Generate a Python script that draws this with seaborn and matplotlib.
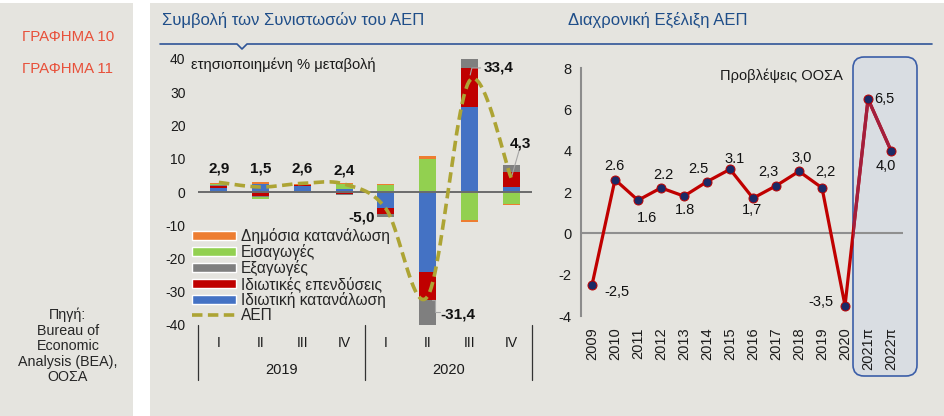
import numpy as np
import matplotlib
matplotlib.use('Agg')
import matplotlib.pyplot as plt
import seaborn as sns
from matplotlib.patches import Patch, Rectangle, FancyBboxPatch
from matplotlib.lines import Line2D
from matplotlib.transforms import IdentityTransform, blended_transform_factory

# ==========================================
# 1. DADOS
# ==========================================
# Γράφημα 10: συμβολή στην τριμηνιαία μεταβολή του ΑΕΠ (ΗΠΑ)
quarters = ['I', 'II', 'III', 'IV', 'I', 'II', 'III', 'IV']
quarter_years = ['2019', '2019', '2019', '2019', '2020', '2020', '2020', '2020']
idiotiki_katanalosi = [1.3, 2.3, 1.9, 0.8, -4.8, -24.0, 25.5, 1.5]
idiotikes_ependyseis = [0.6, -1.1, 0.3, -0.6, -1.7, -8.5, 11.8, 4.5]
exagoges = [0.2, -0.5, 0.0, -0.2, -1.0, -7.5, 2.9, 2.0]
eisagoges = [0.3, -0.5, 0.0, 1.7, 2.2, 10.0, -8.5, -3.7]
dimosia_katanalosi = [0.4, 0.8, 0.3, 0.3, 0.3, 0.7, -0.5, -0.2]
aep_trimino = [2.9, 1.5, 2.6, 2.4, -5.0, -31.4, 33.4, 4.3]
aep_trimino_labels = ['2,9', '1,5', '2,6', '2,4', '-5,0', '-31,4', '33,4', '4,3']

# Γράφημα 11: ετήσια μεταβολή ΑΕΠ
eti = ['2009', '2010', '2011', '2012', '2013', '2014', '2015', '2016',
       '2017', '2018', '2019', '2020', '2021π', '2022π']
aep_eti = [-2.5, 2.6, 1.6, 2.2, 1.8, 2.5, 3.1, 1.7, 2.3, 3.0, 2.2, -3.5, 6.5, 4.0]
aep_eti_labels = ['-2,5', '2.6', '1.6', '2.2', '1.8', '2.5', '3.1', '1,7',
                  '2,3', '3,0', '2,2', '-3,5', '6,5', '4,0']

# ==========================================
# 2. ESTILO
# ==========================================
W, H = 944, 416
BG = '#E5E4DF'
TITLE_C = '#1F4E89'
C_BLUE, C_RED, C_GRAY, C_GREEN, C_ORANGE = '#4472C4', '#C00000', '#7F7F7F', '#92D050', '#ED7D31'
C_AEP = '#ADA434'

sns.set_theme(style='white')
plt.rcParams['font.family'] = ['Liberation Sans', 'DejaVu Sans']
plt.rcParams['axes.unicode_minus'] = False


def fx(px):
    return px / W


def fy(py):
    return 1 - py / H


def smooth_curve(xs, ys, sx, sy, n=24):
    # linha suavizada tipo Excel (Bezier Catmull-Rom em unidades de tela)
    P = np.column_stack([np.asarray(xs, float) * sx, np.asarray(ys, float) * sy])
    Pe = np.vstack([P[0], P, P[-1]])
    t = np.linspace(0, 1, n)[:, None]
    partes = []
    for i in range(len(P) - 1):
        p0, p1, p2, p3 = Pe[i], Pe[i + 1], Pe[i + 2], Pe[i + 3]
        b1 = p1 + (p2 - p0) / 6
        b2 = p2 - (p3 - p1) / 6
        seg = (1 - t) ** 3 * p1 + 3 * (1 - t) ** 2 * t * b1 + 3 * (1 - t) * t ** 2 * b2 + t ** 3 * p2
        partes.append(seg if i == 0 else seg[1:])
    out = np.vstack(partes)
    return out[:, 0] / sx, out[:, 1] / sy


fig = plt.figure(figsize=(W / 100, H / 100), dpi=100)
fig.patch.set_facecolor('white')

# painéis cinzas
fig.add_artist(Rectangle((0, 0), fx(133), 413 / H, transform=fig.transFigure,
                         facecolor=BG, edgecolor='none', zorder=-5))
fig.add_artist(Rectangle((fx(150), 0), fx(W - 150), 413 / H, transform=fig.transFigure,
                         facecolor=BG, edgecolor='none', zorder=-5))

# barra lateral
fig.text(fx(68), fy(37), 'ΓΡΑΦΗΜΑ 10', color='#E8503A', fontsize=10.8, ha='center', va='center')
fig.text(fx(68), fy(69), 'ΓΡΑΦΗΜΑ 11', color='#E8503A', fontsize=10.8, ha='center', va='center')
fig.text(fx(68), fy(346), 'Πηγή:\nBureau of\nEconomic\nAnalysis (BEA),\nΟΟΣΑ',
         fontsize=10.3, ha='center', va='center', linespacing=1.13)

# títulos e linha azul
fig.text(fx(162), fy(20), 'Συμβολή των Συνιστωσών του ΑΕΠ', color=TITLE_C, fontsize=12, va='center')
fig.text(fx(568), fy(20), 'Διαχρονική Εξέλιξη ΑΕΠ', color=TITLE_C, fontsize=12, va='center')
fig.add_artist(Line2D([160, 237, 242, 247, 932], [H - 44, H - 44, H - 49, H - 44, H - 44],
                      transform=IdentityTransform(), color='#2F5597', lw=1.2))

# ==========================================
# 3. GRÁFICO 10 - barras empilhadas
# ==========================================
ax = fig.add_axes([fx(198), fy(325), fx(532 - 198), (325 - 59) / H])
ax.set_facecolor('none')
chaves = [f'{a} {q}' for a, q in zip(quarter_years, quarters)]
series = [(idiotiki_katanalosi, C_BLUE), (idiotikes_ependyseis, C_RED), (exagoges, C_GRAY),
          (eisagoges, C_GREEN), (dimosia_katanalosi, C_ORANGE)]
vals = np.array([s[0] for s in series])
cum_pos = np.cumsum(np.clip(vals, 0, None), axis=0)
cum_neg = np.cumsum(np.clip(vals, None, 0), axis=0)
for k in range(len(series) - 1, -1, -1):
    for cum in (cum_pos, cum_neg):
        sns.barplot(x=chaves, y=cum[k], order=chaves, color=series[k][1], saturation=1,
                    width=0.41, errorbar=None, linewidth=0, ax=ax)

ax.axhline(0, color='#6B6B6B', lw=1.4, zorder=3)
sx, sy = 41.75, 3.32
cx, cy = smooth_curve(range(len(aep_trimino)), aep_trimino, sx, sy)
ax.plot(cx, cy, color=C_AEP, lw=2.6, ls=(0, (2.9, 1.5)), dash_capstyle='butt', zorder=4)

ax.set_xlim(-0.5, 7.5)
ax.set_ylim(-40, 40)
ax.set_yticks(range(-40, 41, 10))
ax.tick_params(axis='y', length=0, pad=9, labelsize=10, labelcolor='#1a1a1a')
ax.tick_params(axis='x', length=0, labelbottom=False)
ax.set_xlabel('')
ax.set_ylabel('')
for s in ax.spines.values():
    s.set_visible(False)

# rótulos do ΑΕΠ
pos_rot = [(0, 7.0), (1, 7.0), (2, 7.0), (3, 6.6), (3.42, -7.8), (5.72, -36.8), (6.71, 37.3), (7.23, 14.6)]
for lab, (lx, ly) in zip(aep_trimino_labels, pos_rot):
    ax.text(lx, ly, lab, ha='center', va='center', fontsize=11, fontweight='bold', color='#111111')
ax.plot([6.02, 6.06, 6.27], [35.2, 37.3, 37.3], color='#A6A6A6', lw=0.8)
ax.plot([7.02, 7.19], [5.0, 12.4], color='#A6A6A6', lw=0.8)
ax.plot([5.1, 5.18, 5.18, 5.3], [-32.5, -32.5, -36.0, -36.0], color='#A6A6A6', lw=0.8)

fig.text(fx(191), fy(65), 'ετησιοποιημένη % μεταβολή', fontsize=10.6, va='center', color='#1a1a1a')

# eixo x em dois níveis
tr = blended_transform_factory(ax.transData, ax.transAxes)
for i, q in enumerate(quarters):
    ax.text(i, -0.068, q, transform=tr, ha='center', va='center', fontsize=10, color='#1a1a1a')
for xa, ano in [(1.5, '2019'), (5.5, '2020')]:
    ax.text(xa, -0.17, ano, transform=tr, ha='center', va='center', fontsize=10.5, color='#1a1a1a')
for xs in (-0.5, 3.5, 7.5):
    ax.plot([xs, xs], [0, -0.207], transform=tr, color='#333333', lw=0.9, clip_on=False)

# legenda
handles = [Patch(facecolor=C_ORANGE, label='Δημόσια κατανάλωση'),
           Patch(facecolor=C_GREEN, label='Εισαγωγές'),
           Patch(facecolor=C_GRAY, label='Εξαγωγές'),
           Patch(facecolor=C_RED, label='Ιδιωτικές επενδύσεις'),
           Patch(facecolor=C_BLUE, label='Ιδιωτική κατανάλωση'),
           Line2D([], [], color=C_AEP, lw=2.6, ls=(0, (2.9, 1.5)), label='ΑΕΠ')]
fig.legend(handles=handles, loc='upper left', bbox_to_anchor=(fx(192), fy(228)), frameon=False,
           fontsize=11.2, handlelength=2.85, handleheight=0.5, labelspacing=0.0, handletextpad=0.3,
           borderpad=0, borderaxespad=0)

# ==========================================
# 4. GRÁFICO 11 - evolução anual
# ==========================================
ax2 = fig.add_axes([fx(581), fy(316), fx(903 - 581), (316 - 68) / H])
ax2.set_facecolor('none')

caixa = FancyBboxPatch((853, H - 376), 64, 319, boxstyle='round,pad=0,rounding_size=11',
                       transform=IdentityTransform(), facecolor='#D9DDE2', edgecolor='#3B5EA8',
                       lw=1.2, zorder=-1)
fig.add_artist(caixa)

ax2.axhline(0, color='#8F8F8F', lw=1.5, zorder=1)
xi = np.arange(len(aep_eti))
sns.lineplot(x=xi, y=aep_eti, color='#C00000', lw=2.3, ax=ax2, zorder=3)
escuro, = ax2.plot(xi, aep_eti, color='#A31F3D', lw=2.3, zorder=3.5)
escuro.set_clip_path(caixa)
ax2.plot(xi, aep_eti, ls='none', marker='o', markersize=6.5, markerfacecolor='#1B2A66',
         markeredgecolor='#C00000', markeredgewidth=0.7, zorder=5)

offsets = [(25, -7), (-1, 14), (9, -18), (2, 13), (1, -14), (-9, 13), (5, 10),
           (-1, -12), (-8, 14), (3, 13), (3, 16), (-24, 4), (16, 0), (-5, -15)]
for x, v, lab, (ox, oy) in zip(xi, aep_eti, aep_eti_labels, offsets):
    ax2.annotate(lab, (x, v), xytext=(ox * 0.72, oy * 0.72), textcoords='offset points',
                 ha='center', va='center', fontsize=10.5, color='#111111', zorder=6)

ax2.text(0.432, 0.969, 'Προβλέψεις ΟΟΣΑ', transform=ax2.transAxes,
         ha='left', va='center', fontsize=10.5, color='#1a1a1a')

ax2.set_xlim(-0.478, 13.52)
ax2.set_ylim(-4, 8)
ax2.set_yticks(range(-4, 9, 2))
ax2.set_xticks(xi)
ax2.set_xticklabels(eti, rotation=90)
ax2.tick_params(axis='x', length=0, pad=8, labelsize=10.5, labelcolor='#1a1a1a')
ax2.tick_params(axis='y', direction='out', length=4, width=1, color='#8C8C8C', pad=3,
                labelsize=10.5, labelcolor='#1a1a1a')
ax2.set_xlabel('')
ax2.set_ylabel('')
for nome, s in ax2.spines.items():
    s.set_visible(nome == 'left')
ax2.spines['left'].set_color('#8C8C8C')
ax2.spines['left'].set_linewidth(1.5)

fig.savefig('out.png', dpi=100, facecolor=fig.get_facecolor())
